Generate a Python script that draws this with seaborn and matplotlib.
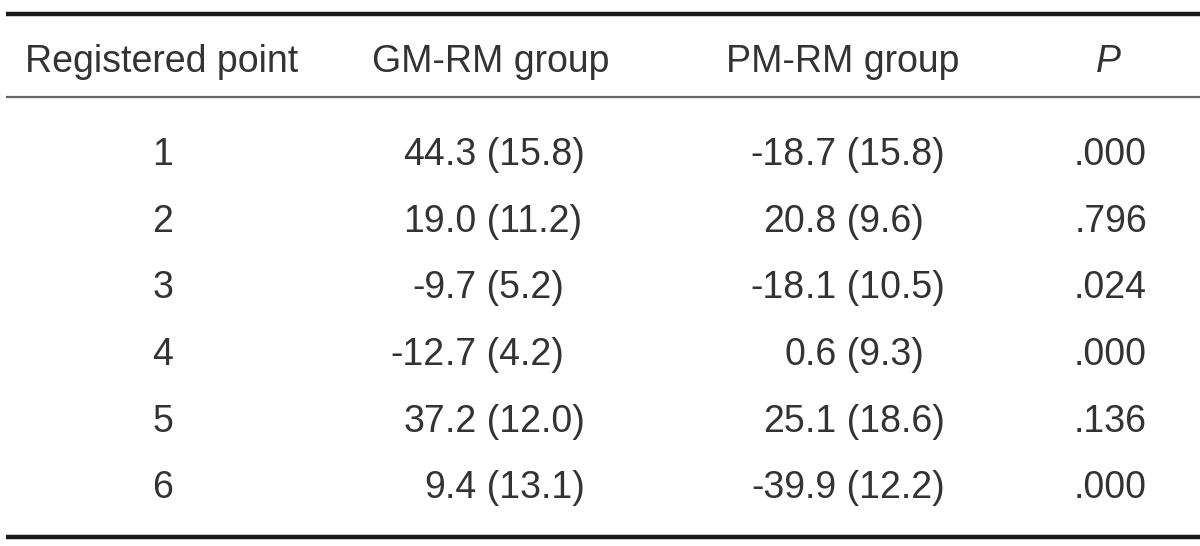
import seaborn as sns
import matplotlib.pyplot as plt

# ::. Table data ::.
points = [1, 2, 3, 4, 5, 6]
gm_mean = [44.3, 19.0, -9.7, -12.7, 37.2, 9.4]
gm_sd = [15.8, 11.2, 5.2, 4.2, 12.0, 13.1]
pm_mean = [-18.7, 20.8, -18.1, 0.6, 25.1, -39.9]
pm_sd = [15.8, 9.6, 10.5, 9.3, 18.6, 12.2]
p_values = [0.000, 0.796, 0.024, 0.000, 0.136, 0.000]
headers = ["Registered point", "GM-RM group", "PM-RM group", "P"]

# .:: Style ::.
sns.set_theme(style="white")
plt.rcParams["font.family"] = ["Liberation Sans", "DejaVu Sans"]
text_color = "#333333"
fs = 27

fig = plt.figure(figsize=(12, 5.46), dpi=100)
ax = fig.add_axes([0, 0, 1, 1])
ax.set_xlim(0, 1200)
ax.set_ylim(546, 0)
ax.axis("off")

# .:: Rules ::.
ax.hlines(13.5, 6, 1200, color="#1a1a1a", linewidth=3.2)
ax.hlines(97, 6, 1200, color="#666666", linewidth=1.6)
ax.hlines(536.5, 6, 1200, color="#1a1a1a", linewidth=3.2)

# .:: Header ::.
header_x = [162, 491, 843, 1108]
for x, h in zip(header_x, headers):
    ax.text(x, 72, h, ha="center", va="baseline", fontsize=fs, color=text_color,
            style="italic" if h == "P" else "normal")

# .:: Body rows (decimal aligned) ::.
def decimal_text(x_dec, y, mean, sd):
    s = f"{mean:.1f}"
    whole, frac = s.split(".")
    ax.text(x_dec, y, whole, ha="right", va="baseline", fontsize=fs, color=text_color)
    ax.text(x_dec, y, f".{frac} ({sd:.1f})", ha="left", va="baseline",
            fontsize=fs, color=text_color)

row_y0, row_step = 165, 66.7
for i, pt in enumerate(points):
    y = row_y0 + i * row_step
    ax.text(163, y, str(pt), ha="center", va="baseline", fontsize=fs, color=text_color)
    decimal_text(445, y, gm_mean[i], gm_sd[i])
    decimal_text(805, y, pm_mean[i], pm_sd[i])
    ax.text(1147, y, f"{p_values[i]:.3f}".lstrip("0"), ha="right", va="baseline",
            fontsize=fs, color=text_color)

fig.savefig("out.png", dpi=100, facecolor="white")
